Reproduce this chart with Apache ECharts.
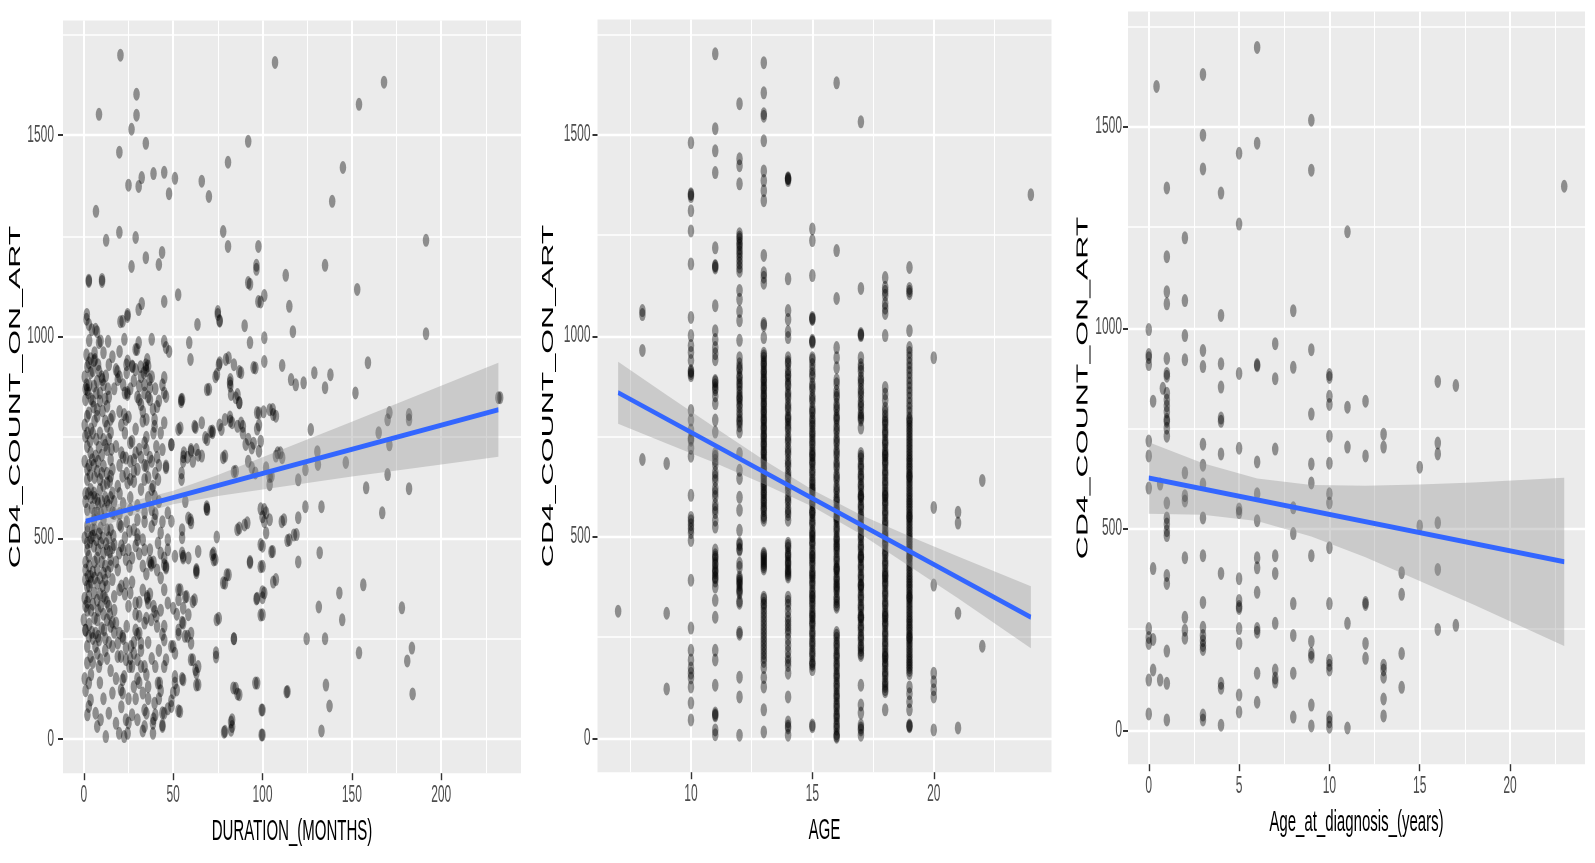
<!DOCTYPE html>
<html>
<head>
<meta charset="utf-8">
<title>CD4 count on ART</title>
<script src="https://cdn.jsdelivr.net/npm/echarts@6.0.0/dist/echarts.min.js"></script>
<style>
html { margin: 0; padding: 0; overflow: hidden; background: #fff; }
body { margin: 0; padding: 0; width: 1595px; height: 863px; background: #fff; }
/* the source picture is stretched 2x vertically: draw at half height, then stretch */
#main { width: 1595px; height: 432px; transform: scaleY(2); transform-origin: 0 0; }
</style>
</head>
<body>
<div id="main"></div>
<script>
// tick labels
var durationTicks = [0, 50, 100, 150, 200];
var cd4Ticks = [0, 500, 1000, 1500];
var ageTicks = [10, 15, 20];
var diagTicks = [0, 5, 10, 15, 20];

// panel 1: duration (months) vs CD4
var durationHigh = [
  [20.5,1699],[107,1681],[168,1632],[154,1577],[29.5,1602],[29.5,1550],[8.5,1552],[26.7,1515],[34.7,1480],[19.9,1458],
  [92,1485],[80.7,1433],[145,1420],[25,1376],[30.7,1373],[32.4,1395],[39,1405],[45,1408],[51,1393],[47.7,1355],
  [66,1386],[70,1348],[139,1336],[6.8,1311],[12.5,1239],[19.9,1259],[29,1246],[78,1261],[80.7,1224],[97.7,1224],
  [191.5,1239],[43.8,1209],[42,1179],[34.7,1196],[26.7,1174],[96.6,1177],[96.6,1167],[92,1134],[113,1152],[135,1177],
  [2.8,1137],[2.8,1140],[10.2,1142],[10.2,1137],[153,1117],[52.8,1104],[45,1087],[32.4,1082],[30.7,1067],[24.4,1050],
  [20.5,1037],[97.7,1087],[101,1102],[115,1075],[75,1062],[75,1055],[76,1040],[63.6,1030],[90,1027],[117,1012],
  [191.5,1007],[101,997],[93,985],[1.7,1055],[1.5,1043],[2.8,1030],[4.5,1017],[7.4,1012],[8.5,985],[13.6,988],
  [22.7,993],[30.7,985],[38,993],[45,988],[46,973],[47.7,963],[59,985],[59.7,943],[20,963],[29,968],
  [6.3,943],[24.5,1055],[21.7,1038],[6.6,1018],[9.4,989],[29.8,968],[99,1086],[93,1130],[76,1038],[3,990],
  [6,960],[11,960],[14,930],[16,950],[1.5,955],[3.8,945],[2.8,935],[5.7,940],[24.5,939]
];
var durationMid = [
  [2,925],[5,915],[8,930],[10,900],[3,880],[1,870],[18.8,913],[23.9,930],[27.3,925],[34.7,930],
  [34.7,922],[35,915],[31.8,925],[45,898],[24.4,861],[24.4,856],[31,843],[37,843],[41,826],[46,851],
  [54.5,843],[54.5,838],[75.6,930],[79.5,943],[84,930],[87,913],[73.7,900],[69,868],[81.8,885],[82.4,856],
  [85,848],[87,836],[95,923],[101,938],[111,928],[116,893],[118.6,880],[123,885],[129,910],[135,873],
  [138,905],[152,860],[159,935],[171,811],[182,806],[232,848],[97,811],[100.6,813],[104,818],[106,806],
  [81.8,800],[27,927],[29,918],[35.5,943],[36,927],[33.6,910],[36.8,893],[3.8,910],[8.5,914],[10.4,893],
  [7.5,889],[12.3,902],[5.7,877],[18,918],[19,893],[23,860],[31,877],[34,860],[37,873],[45,860],
  [55,844],[70,869],[76,935],[81,947],[88,910],[82,893],[82,877],[86,856],[87,835],[74.5,906],
  [96,922],[98,810],[105.7,819],[107.5,802],[1.9,868],[0.9,843],[2.8,810],[1.9,802],[7.5,819],[7.5,802],
  [13,827],[16,802],[15,794],[13,777],[15,761],[20,814],[22.6,806],[23.6,794],[32,831],[33,814],
  [35,794],[38.7,819],[39.6,794],[39.6,777],[45,786],[54,773],[62,777],[66,786],[72,765],[77,769],
  [79,794],[83,786],[86,777],[89,777],[182,793],[170,793],[165,761],[171,731],[127,769],[130.7,714],
  [108.5,711],[111,699],[89,760],[92,745],[95,735],[97,770],[98,780],[76,780],[82,790],[88,785],
  [71,764],[68,749],[62.5,774],[53,769],[4,770],[6,790],[9,760],[12,790],[5,840],[9,860],
  [11,880],[14,850],[17,870],[0.9,752],[11,744],[26,736],[34,736],[99,740],[72,761],[69,744]
];
var durationLowMid = [
  [1.9,727],[3.8,711],[6.6,703],[4.7,694],[13,719],[15,694],[18,727],[21,711],[23.6,698],[29,711],
  [28,694],[35,719],[40.6,727],[44,719],[49,732],[49,731],[56,711],[60,719],[63,719],[66,703],
  [79,703],[90.6,732],[94,723],[98,715],[60,715],[58,700],[61,690],[64,705],[55.7,701],[78,699],
  [146.6,687],[131,682],[94,674],[84,664],[46,674],[1.9,645],[3.8,620],[5.7,611],[7.5,595],[11,678],
  [15,653],[16,611],[19,628],[13,636],[21.7,653],[24.5,636],[26,645],[28,665],[35,678],[34,645],
  [38.7,628],[41.5,645],[39.6,603],[46,678],[55.6,690],[54.7,661],[54.7,645],[69,570],[85,665],[92,690],
  [96,661],[102,674],[105,653],[107.5,703],[110,711],[101,570],[102,562],[104,545],[112,545],[1.9,570],
  [5.7,545],[7.5,562],[11,545],[16,562],[20,533],[26,570],[30,545],[34,562],[38,570],[39.6,545],
  [47,562],[49,541],[58.5,549],[87,524],[91.5,537],[170,657],[158,624],[182,622],[167,562],[120,644],
  [124,669],[124,577],[120,550],[133,577],[117.6,507],[114,493],[110.8,540],[104,632],[104,652],[99,572],
  [100,552],[101,540],[86,520],[90,532],[74.4,502],[68.8,577],[68.8,572],[56.8,590],[59.7,545],[55,520],
  [55,500],[4,600],[6,650],[9,620],[12,600],[3,680],[8,690],[10,660],[14,580],[1,610],
  [2,530],[6,560],[10,590],[17,590],[20,610],[13,520]
];
var durationLow = [
  [4.7,520],[9.4,524],[15,520],[20.8,528],[25.5,516],[30,508],[33,495],[38,528],[43,512],[47,495],
  [60,537],[102,512],[115,495],[119,508],[1.9,487],[5.7,479],[9.4,487],[13,470],[17,483],[2.8,454],
  [7.5,450],[11,462],[15,446],[19.8,462],[23.6,446],[25.5,429],[30,495],[34,470],[41.5,487],[43,462],
  [47,470],[51,454],[36.8,441],[37.7,437],[37.7,432],[45,433],[46,429],[46,425],[55,462],[55.6,454],
  [55.6,450],[58.5,450],[63,421],[63,413],[63,418],[64,466],[72.6,462],[73.6,446],[72.7,445],[81,408],
  [79,387],[93,441],[100,479],[100,429],[105.7,466],[107.5,396],[0.9,396],[1.9,379],[3.8,404],[2.8,354],
  [5.7,363],[7.5,387],[11,412],[13,379],[16,396],[17,354],[20,371],[23.6,387],[26,363],[29,338],
  [35.5,354],[35.5,350],[36,338],[39.6,317],[45,371],[47,338],[50,325],[53,346],[54,371],[57.5,354],
  [62,346],[55.6,325],[58.5,309],[75.5,300],[97,350],[101,363],[100,309],[120,440],[132,463],[105,465],
  [106,390],[100,366],[100,351],[99,483],[99,428],[93,438],[96.6,348],[99,308],[78,388],[80,408],
  [72,458],[53,371],[56.8,353],[61,341],[156.4,383],[143,363],[144.6,296],[131.5,328],[178,326],[1,440],
  [3,430],[5,415],[2,470],[4,500],[6,520],[8,470],[10,440],[12,430],[14,500],[3,380],
  [6,400],[9,360],[12,350],[2,320],[5,335],[8,320],[11,310],[14,330],[17,320],[19,420],
  [22,470],[16,475],[18,440]
];
var durationBottom = [
  [0,296],[0.9,271],[2.8,255],[1.9,230],[3.8,205],[1.9,189],[7.5,296],[6.6,263],[8.5,246],[7.5,213],
  [9.4,197],[8.5,180],[11.3,271],[13,296],[15,280],[18,288],[20,263],[19,238],[21.7,255],[23.6,226],
  [20.8,205],[23.6,197],[26.4,230],[28,213],[25.5,180],[21.7,147],[31,305],[31,263],[32,238],[34,288],
  [29,271],[30,197],[32,180],[37.7,296],[40.6,305],[45,280],[45,246],[46,197],[45,180],[49,230],
  [51,213],[53,271],[55.6,288],[56.6,255],[60,263],[60,238],[61,197],[64,180],[63,164],[74,214],
  [74,204],[84,249],[2.8,139],[3.8,97],[2.8,81],[6.6,64],[7.5,31],[12.3,6],[9.4,48],[14,64],
  [16,114],[20.8,122],[22.6,155],[21.7,114],[18,39],[19.8,14],[23.6,48],[24.5,14],[22.6,6],[30,48],
  [33,114],[34,72],[35,64],[34,31],[38.7,39],[38.7,14],[39.6,89],[42.5,139],[45,64],[44,31],
  [49,81],[53.8,68],[51,155],[55.6,147],[51,139],[52,122],[64,135],[83,48],[83,31],[79,19],
  [85,126],[87,110],[97,139],[100,72],[100,10],[114,118],[41.5,139],[44,65],[44,35],[52,310],
  [55,290],[53,260],[58,255],[50,230],[60,197],[62.5,172],[63,134],[55,150],[50,115],[49,95],
  [47,75],[53,70],[0.5,150],[1,120],[2,60],[4,160],[5,250],[1,330],[5,190],[9,140],
  [11,100],[13,200],[15,170],[16,230],[18,150],[12,250],[25,100],[28,130],[27,60],[30,150],
  [36,130],[40,60],[42,100],[183.6,226],[181,194],[154,214],[184,112],[135,249],[124.7,249],[135.5,134],
  [137.5,82],[133,20],[113.5,117],[96,139],[99.5,72],[99.5,10],[83.7,127],[86,112],[78.5,17],[82.4,22],
  [82.4,42],[74.4,296],[84,249],[233,848]
];
// overlapping points in the darkest part of the cloud
var durationCore = [
  [0.5,900],[1.5,880],[2.5,860],[4,845],[5.5,825],[7,860],[9,840],[10.5,815],[12,845],[13.5,870],
  [0.5,780],[2,760],[3.5,740],[5,760],[7,745],[8.5,725],[10,705],[12,730],[14,745],[15.5,720],
  [0.5,690],[2,670],[3.5,655],[5.5,680],[7.5,665],[9,645],[11,630],[13,660],[14.5,640],[16,670],
  [1,590],[2.5,610],[4.5,575],[6,600],[8,585],[9.5,560],[11.5,570],[13,590],[15,600],[17,560],
  [0.5,500],[2,515],[3.5,490],[5,505],[7,495],[8.5,510],[10.5,500],[12.5,485],[14.5,465],[16.5,505],
  [1,420],[2.5,405],[4,390],[6,440],[7.5,420],[9,400],[10.5,380],[12,395],[13.5,415],[15,430],
  [0.5,350],[2,340],[4,320],[6,300],[7.5,345],[9.5,330],[11,355],[13,340],[14.5,310],[16,290],
  [1,270],[3,285],[4.5,265],[6.5,230],[8,255],[10,275],[12,220],[14,240],[17,265],[19,205],
  [20,560],[22,585],[24,540],[26,600],[28,520],[30,580],[32,620],[34,540],[36,600],[38,620],
  [40,560],[42,590],[44,540],[21,480],[23,500],[25,470],[27,450],[29,480],[31,460],[33,430],
  [35,410],[37,470],[39,440],[41,420],[43,400],[45,450],[20,900],[22,880],[24,910],[26,870],
  [28,890],[30,850],[32,900],[34,880],[36,850],[38,900],[40,870],[42,840],[44,880],[21,780],
  [23,760],[25,800],[27,740],[29,770],[31,720],[33,790],[35,750],[37,700],[39,760],[41,700],
  [43,760],[20,680],[22,700],[24,660],[26,690],[28,640],[30,670],[32,700],[34,680],[36,650],
  [38,690],[40,660],[42,680],[21,380],[23,360],[25,330],[27,390],[29,310],[31,340],[33,370],
  [35,300],[37,360],[39,330],[41,280],[43,320],[22,250],[24,280],[26,200],[28,240],[30,260],
  [32,220],[34,180],[36,240],[38,200],[40,180],[42,220],[44,260],[21,80],[25,40],[29,100],
  [33,20],[36,100],[39,50],[43,120],[27,180],[31,140],[35,160]
];
var durationFit = [[1, 541], [232, 818]];
var durationBandX = [1, 25, 50, 75, 100, 125, 150, 175, 200, 232];
var durationBandHi = [569, 588, 617, 656, 700, 744, 788, 833, 878, 935];
var durationBandLo = [513, 552, 583, 604, 620, 636, 652, 667, 682, 701];

// panel 2: age (years) vs CD4, one column per age
var ageValues = [7, 8, 9, 10, 11, 12, 13, 14, 15, 16, 17, 18, 19, 20, 21, 22, 24];
var cd4ByAge = [
  [315],
  [1062, 1052, 963, 692],
  [682, 310, 122],
  [1479, 1352, 1345, 1310, 1260, 1178, 1045, 1000, 975, 958, 938, 913, 905, 900, 814, 790, 765, 740, 720, 700, 603, 548, 530, 510, 491, 392, 273, 218, 194, 174, 161, 149, 127, 87, 45, 1350, 910, 745, 540, 520],
  [1700, 1514, 1459, 1405, 1218, 1174, 1168, 1074, 1012, 990, 970, 955, 940, 888, 878, 870, 850, 831, 790, 760, 707, 690, 680, 660, 640, 620, 600, 580, 560, 541, 524, 467, 455, 445, 430, 420, 410, 398, 390, 375, 342, 300, 218, 194, 131, 62, 55, 20, 8, 1172, 885, 865, 700, 650, 610, 570, 450, 435, 415, 400, 58],
  [1576, 1439, 1422, 1377, 1253, 1240, 1230, 1216, 1200, 1180, 1160, 1112, 1090, 1060, 1037, 988, 945, 930, 920, 900, 885, 870, 850, 840, 830, 810, 790, 785, 760, 707, 665, 645, 598, 566, 516, 484, 467, 434, 424, 400, 390, 380, 370, 360, 335, 263, 258, 151, 102, 7, 1245, 1225, 1208, 1190, 1170, 915, 895, 878, 860, 845, 822, 800, 775, 480, 470, 395, 385, 365, 340],
  [1678, 1603, 1551, 1545, 1484, 1409, 1385, 1360, 1335, 1199, 1156, 1145, 1130, 1030, 1025, 995, 956, 944, 935, 924, 915, 904, 895, 884, 875, 864, 855, 844, 835, 824, 815, 804, 795, 785, 776, 765, 756, 745, 736, 725, 716, 705, 696, 685, 676, 665, 656, 645, 636, 625, 616, 605, 596, 585, 576, 565, 553, 541, 459, 450, 440, 430, 420, 350, 335, 320, 300, 280, 260, 240, 220, 200, 175, 150, 127, 70, 15,
    950, 930, 910, 890, 870, 850, 830, 810, 790, 770, 750, 730, 710, 690, 670, 650, 630, 610, 590, 570, 548, 455, 445, 435, 425, 345, 330, 310, 290, 270, 250, 230, 210, 190],
  [1392, 1389, 1385, 1141, 1062, 1040, 1010, 995, 945, 930, 915, 900, 890, 875, 860, 845, 830, 815, 800, 790, 780, 765, 750, 735, 720, 705, 690, 675, 660, 645, 630, 615, 600, 585, 570, 555, 541, 484, 472, 460, 450, 440, 430, 420, 410, 400, 350, 330, 300, 280, 260, 230, 200, 180, 161, 102, 40, 25, 7,
    1390, 935, 905, 880, 852, 822, 795, 772, 742, 712, 682, 652, 622, 592, 562, 478, 455, 435, 415, 405, 340, 315, 290, 270, 245, 215, 190, 30],
  [1265, 1236, 1149, 1045, 1040, 988, 983, 945, 928, 915, 898, 880, 866, 850, 836, 820, 808, 795, 788, 774, 763, 750, 741, 727, 716, 703, 690, 679, 667, 652, 641, 628, 616, 603, 590, 579, 566, 552, 541, 529, 515, 503, 490, 479, 466, 452, 441, 428, 415, 404, 391, 378, 366, 352, 341, 327, 316, 303, 290, 279, 266, 253, 241, 228, 216, 203, 190, 181, 170, 32, 28, 560, 500, 450, 400, 350, 300, 620, 700,
    940, 905, 873, 843, 812, 781, 757, 733, 709, 684, 660, 635, 610, 585, 560, 535, 510, 485, 460, 435, 410, 385, 360, 335, 310, 285, 260, 235, 210, 185, 1042, 985],
  [1628, 1211, 1092, 970, 945, 920, 890, 862, 846, 830, 815, 801, 790, 776, 760, 746, 731, 716, 701, 686, 671, 655, 641, 626, 611, 598, 586, 574, 563, 550, 538, 526, 513, 500, 489, 476, 463, 451, 438, 426, 413, 401, 389, 376, 364, 351, 338, 325, 262, 248, 236, 222, 210, 198, 186, 172, 160, 148, 136, 122, 110, 98, 86, 72, 60, 48, 36, 22, 10, 2, 550, 480, 420, 380,
    880, 852, 822, 795, 768, 738, 708, 678, 648, 618, 592, 568, 544, 520, 495, 470, 445, 420, 395, 370, 345, 330, 255, 230, 205, 180, 155, 130, 105, 80, 55, 30, 5],
  [1531, 1117, 1005, 1000, 945, 928, 911, 895, 880, 866, 850, 836, 821, 808, 795, 790, 770, 707, 694, 681, 668, 655, 643, 630, 617, 605, 593, 580, 568, 555, 542, 530, 518, 505, 493, 480, 468, 455, 443, 430, 418, 405, 393, 380, 368, 355, 343, 330, 318, 305, 293, 280, 268, 255, 243, 230, 218, 205, 131, 82, 62, 32, 20, 7, 600, 520, 450, 380, 300,
    920, 888, 858, 828, 800, 700, 675, 650, 625, 600, 575, 550, 525, 500, 475, 450, 425, 400, 375, 350, 325, 300, 275, 250, 225, 210, 1002, 25],
  [1144, 1120, 1100, 1080, 1055, 1000, 871, 839, 820, 800, 790, 778, 765, 753, 740, 728, 716, 703, 690, 678, 666, 653, 641, 628, 616, 603, 590, 578, 566, 553, 541, 528, 516, 503, 490, 478, 466, 453, 441, 428, 416, 403, 390, 378, 366, 353, 341, 328, 316, 303, 290, 278, 266, 253, 241, 228, 216, 203, 190, 178, 166, 153, 141, 128, 115, 70, 700, 600, 500, 400, 300, 200,
    1110, 1068, 855, 810, 784, 759, 734, 709, 684, 659, 634, 609, 584, 559, 534, 509, 484, 459, 434, 409, 384, 359, 334, 309, 284, 259, 234, 209, 184, 159, 134, 120],
  [1169, 1117, 1104, 1012, 970, 945, 920, 908, 895, 870, 858, 845, 820, 808, 795, 790, 776, 761, 746, 731, 716, 701, 688, 675, 661, 646, 631, 616, 601, 588, 575, 561, 546, 531, 516, 501, 488, 475, 461, 446, 431, 416, 401, 388, 375, 361, 346, 331, 316, 301, 288, 275, 261, 246, 231, 216, 201, 188, 175, 160, 127, 110, 90, 70, 32, 28, 650, 550, 450, 350, 250,
    1110, 958, 932, 882, 832, 783, 768, 753, 738, 723, 708, 694, 681, 668, 653, 638, 623, 608, 594, 581, 568, 553, 538, 523, 508, 494, 481, 468, 453, 438, 423, 408, 394, 381, 368, 353, 338, 323, 308, 294, 281, 268, 253, 238, 223, 208, 194, 181, 168, 30],
  [945, 573, 380, 161, 140, 120, 102, 20],
  [561, 534, 310, 25],
  [640, 228],
  [1350]
];
var ageFit = [[7, 858], [24, 300]];
var ageBandX = [7, 9, 11, 13, 15, 17, 19, 21, 24];
var ageBandHi = [935, 852, 771, 691, 617, 554, 501, 451, 377];
var ageBandLo = [781, 732, 683, 631, 575, 506, 427, 347, 223];

// panel 3: age at diagnosis (years) vs CD4
var diagAges = [0, 1, 2, 3, 4, 5, 6, 7, 8, 9, 10, 11, 12, 13, 14, 15, 16, 17, 23];
var cd4ByDiagAge = [
  [995, 933, 925, 908, 718, 681, 601, 252, 230, 215, 124, 40],
  [1347, 1176, 1089, 1059, 923, 886, 879, 837, 820, 805, 790, 772, 767, 750, 730, 564, 527, 512, 495, 483, 384, 364, 196, 116, 25],
  [1223, 1067, 980, 920, 639, 582, 569, 428, 280, 248, 228],
  [1629, 1478, 1394, 943, 903, 710, 658, 611, 527, 433, 317, 255, 235, 222, 210, 200, 37, 25],
  [1334, 1030, 910, 852, 775, 767, 686, 389, 116, 104, 12],
  [1433, 1257, 886, 700, 549, 540, 376, 322, 307, 302, 252, 215, 87, 45],
  [1696, 1458, 908, 905, 666, 587, 520, 428, 403, 342, 252, 243, 141, 69],
  [960, 873, 698, 433, 389, 265, 149, 129, 119],
  [1042, 901, 552, 488, 314, 235, 141, 32],
  [1515, 1391, 945, 785, 661, 614, 433, 220, 190, 181, 62, 10],
  [883, 876, 829, 809, 730, 663, 587, 564, 453, 314, 173, 161, 149, 32, 20, 7],
  [1238, 802, 703, 265, 5],
  [817, 681, 317, 312, 215, 178],
  [735, 703, 161, 149, 131, 77, 35],
  [391, 337, 190, 106],
  [653, 507],
  [866, 713, 686, 515, 399, 250],
  [856, 260],
  [1351]
];
var diagExtra = [[0.24, 817], [0.24, 401], [0.24, 225], [0.24, 149], [0.43, 1599], [0.78, 849], [0.63, 611], [0.63, 124]];
var diagFit = [[0, 626], [23, 418]];
var diagBandX = [0, 3, 6, 9, 12, 15, 18, 23];
var diagBandHi = [715, 663, 625, 609, 607, 610, 615, 627];
var diagBandLo = [537, 535, 519, 481, 429, 370, 311, 209];

function columnsToPoints(xs, cols) {
  var out = [];
  for (var i = 0; i < xs.length; i++) {
    for (var j = 0; j < cols[i].length; j++) out.push([xs[i], cols[i][j]]);
  }
  return out;
}

var chart = echarts.init(document.getElementById('main'), null, { devicePixelRatio: 2 });

var font = "'Liberation Sans', Arial, Helvetica, sans-serif";

function xAxisFor(idx, min, max, step, ticks, name) {
  return {
    type: 'value', gridIndex: idx, min: min, max: max,
    minInterval: step, maxInterval: step, splitNumber: 5,
    name: name, nameLocation: 'middle', nameGap: 22,
    nameTextStyle: { fontSize: 15, color: '#000', fontFamily: font },
    axisLine: { show: false, onZero: false },
    axisTick: { show: true, length: 3.5, customValues: ticks, lineStyle: { color: '#333', width: 1.4 } },
    axisLabel: { fontSize: 12, color: '#4D4D4D', margin: 5, fontFamily: font, customValues: ticks,
      formatter: function (v) { return String(v); } },
    splitLine: { show: true, lineStyle: { color: '#fff', width: 2 } },
    minorTick: { show: false, splitNumber: 2 },
    minorSplitLine: { show: true, lineStyle: { color: '#fff', width: 1 } }
  };
}

function yAxisFor(idx, labelMargin, nameGap) {
  return {
    type: 'value', gridIndex: idx, min: -85, max: 1785,
    minInterval: 500, maxInterval: 500, splitNumber: 4,
    name: 'CD4_COUNT_ON_ART', nameLocation: 'middle', nameRotate: 90, nameGap: nameGap,
    nameTextStyle: { fontSize: 16, color: '#000', fontFamily: font },
    axisLine: { show: false, onZero: false },
    axisTick: { show: true, length: 5, customValues: cd4Ticks, lineStyle: { color: '#333', width: 1 } },
    axisLabel: { fontSize: 12, color: '#4D4D4D', margin: labelMargin, fontFamily: font, customValues: cd4Ticks,
      formatter: function (v) { return String(v); } },
    splitLine: { show: true, lineStyle: { color: '#fff', width: 1.35 } },
    minorTick: { show: false, splitNumber: 2 },
    minorSplitLine: { show: true, lineStyle: { color: '#fff', width: 0.7 } }
  };
}

function scatterSeries(idx, data) {
  return {
    type: 'scatter', xAxisIndex: idx, yAxisIndex: idx, data: data,
    symbol: 'circle', symbolSize: 6.5, silent: true, z: 2,
    itemStyle: { color: 'rgba(0,0,0,0.5)' }
  };
}

function bandSeries(idx, xs, hi, lo) {
  return {
    type: 'custom', xAxisIndex: idx, yAxisIndex: idx, data: [[xs[0], hi[0]]], silent: true, z: 3,
    renderItem: function (params, api) {
      var pts = [];
      for (var i = 0; i < xs.length; i++) pts.push(api.coord([xs[i], hi[i]]));
      for (var j = xs.length - 1; j >= 0; j--) pts.push(api.coord([xs[j], lo[j]]));
      return { type: 'polygon', shape: { points: pts }, style: { fill: 'rgba(153,153,153,0.4)' } };
    }
  };
}

function fitSeries(idx, data) {
  return {
    type: 'line', xAxisIndex: idx, yAxisIndex: idx, data: data, showSymbol: false, silent: true, z: 4,
    lineStyle: { color: '#3366FF', width: 2.5 }
  };
}

var gridStyle = { show: true, backgroundColor: '#EBEBEB', borderWidth: 0, containLabel: false };

var option = {
  animation: false,
  backgroundColor: '#fff',
  textStyle: { fontFamily: font },
  grid: [
    Object.assign({ left: 63, top: 10.3, width: 458, height: 376.3 }, gridStyle),
    Object.assign({ left: 597.5, top: 9.8, width: 454, height: 376.3 }, gridStyle),
    Object.assign({ left: 1128, top: 5.8, width: 457, height: 376.3 }, gridStyle)
  ],
  xAxis: [
    xAxisFor(0, -11.65, 244.65, 50, durationTicks, 'DURATION_(MONTHS)'),
    xAxisFor(1, 6.15, 24.85, 5, ageTicks, 'AGE'),
    xAxisFor(2, -1.15, 24.15, 5, diagTicks, 'Age_at_diagnosis_(years)')
  ],
  yAxis: [
    yAxisFor(0, 9, 38),
    yAxisFor(1, 7, 41),
    yAxisFor(2, 6, 37)
  ],
  series: [
    scatterSeries(0, durationHigh.concat(durationMid, durationLowMid, durationLow, durationBottom, durationCore)),
    bandSeries(0, durationBandX, durationBandHi, durationBandLo),
    fitSeries(0, durationFit),
    scatterSeries(1, columnsToPoints(ageValues, cd4ByAge)),
    bandSeries(1, ageBandX, ageBandHi, ageBandLo),
    fitSeries(1, ageFit),
    scatterSeries(2, columnsToPoints(diagAges, cd4ByDiagAge).concat(diagExtra)),
    bandSeries(2, diagBandX, diagBandHi, diagBandLo),
    fitSeries(2, diagFit)
  ]
};

chart.setOption(option);
window.onresize = function () {
  chart.resize();
};
</script>
</body>
</html>
